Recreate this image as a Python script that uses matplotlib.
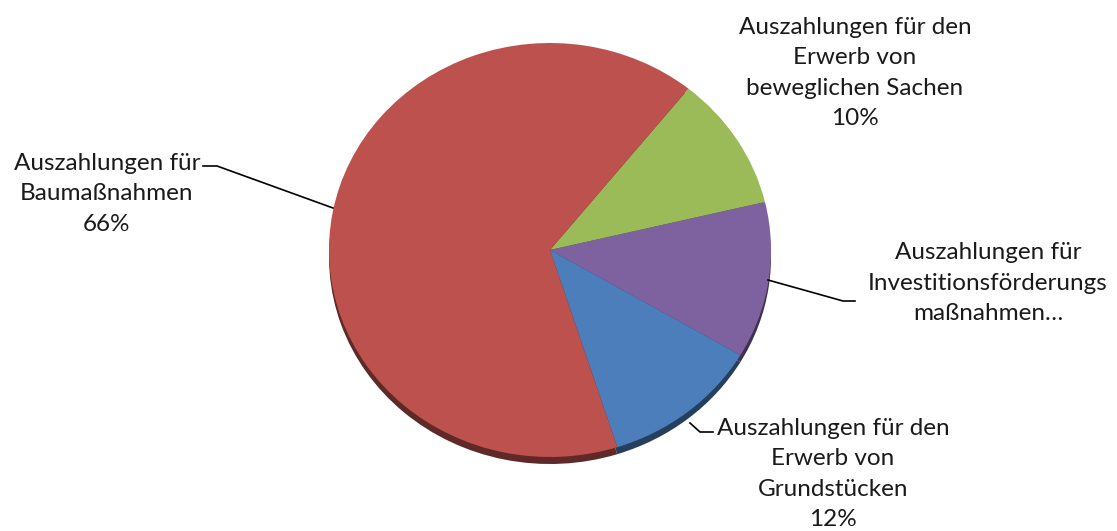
import matplotlib.pyplot as plt
from matplotlib.transforms import Affine2D
from matplotlib.colors import to_rgb

plt.rcParams['font.family'] = ['Lato', 'DejaVu Sans']

# data (clockwise, starting at the red/green boundary)
labels = ["Auszahlungen für den\nErwerb von\nbeweglichen Sachen\n10%",
          "Auszahlungen für\nInvestitionsförderungs\nmaßnahmen…",
          "Auszahlungen für den\nErwerb von\nGrundstücken\n12%",
          "Auszahlungen für\nBaumaßnahmen\n66%"]
values = [10.5, 12.2, 11.6, 65.7]
colors = ["#9BBB59", "#7E62A0", "#4B7EBB", "#BC514E"]

W, H = 1117, 531
fig = plt.figure(figsize=(W / 100, H / 100), dpi=100)
ax = fig.add_axes([0, 0, 1, 1])

def Y(y):
    return H - y

cx, cy = 550, Y(250)
rx, ry = 221, 207

def squash(x0, y0):
    return Affine2D().translate(-x0, -y0).scale(1, ry / rx).translate(x0, y0)

def dark(c, f=0.5):
    return tuple(v * f for v in to_rgb(c))

# 3d rim below the pie
off = 7
rim, _ = ax.pie(values, colors=[dark(c) for c in colors], startangle=51.2,
                counterclock=False, radius=rx, center=(cx, cy - off), frame=True)
for w in rim:
    w.set_transform(squash(cx, cy - off) + ax.transData)

wedges, _ = ax.pie(values, colors=colors, startangle=51.2, counterclock=False,
                   radius=rx, center=(cx, cy), frame=True)
for w in wedges:
    w.set_transform(squash(cx, cy) + ax.transData)

ax.set_xlim(0, W)
ax.set_ylim(0, H)
ax.set_aspect('auto')
ax.axis('off')

fs = 17.5
txt = dict(ha='center', va='center', fontsize=fs, linespacing=1.55, color='#1a1a1a')
ax.text(855, Y(73), labels[0], **txt)
ax.text(988, Y(283), labels[1], **txt)
ax.text(833, Y(474), labels[2], **txt)
ax.text(107, Y(194), labels[3], **txt)

# leader lines
lk = dict(color='black', lw=1.2)
ax.plot([333, 217, 203], [Y(208), Y(166), Y(166)], **lk)
ax.plot([768, 843, 855], [Y(280), Y(301), Y(301)], **lk)
ax.plot([690, 700, 713], [Y(423), Y(432), Y(432)], **lk)

fig.savefig('out.png', dpi=100, facecolor='white')
